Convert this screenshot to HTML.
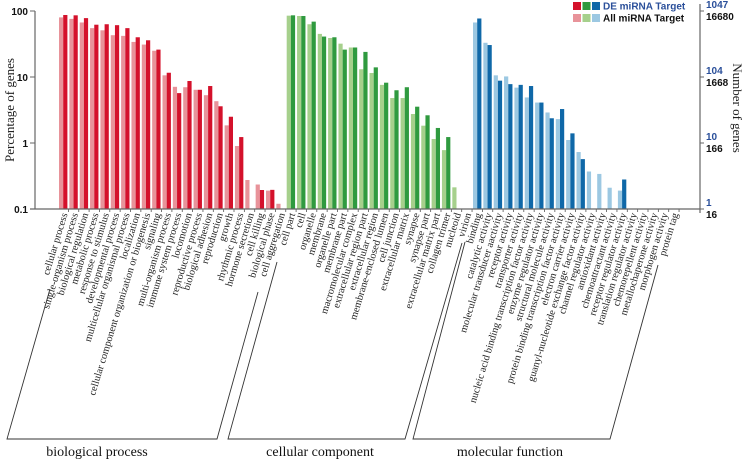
<!DOCTYPE html>
<html><head><meta charset="utf-8"><style>
html,body{margin:0;padding:0;background:#fff;}
svg{display:block;font-family:"Liberation Serif",serif;}
.ax{font-family:"Liberation Sans",sans-serif;font-weight:bold;font-size:10px;}
</style></head><body>
<svg id="chart" width="746" height="460" viewBox="0 0 746 460">
<g id="bars"></g>
<g id="labels"></g>
<g id="axes"></g>
</svg>
<script>
const bioCats=["cellular process","single-organism process","biological regulation","metabolic process","response to stimulus","developmental process","multicellular organismal process","localization","cellular component organization or biogenesis","signaling","multi-organism process","immune system process","locomotion","reproductive process","biological adhesion","reproduction","growth","rhythmic process","hormone secretion","cell killing","biological phase","cell aggregation"];
const bioAll=[80,76,67,55,51,43,42,34,31,25,10.6,7.1,7.0,6.4,5.3,4.3,1.85,0.9,0.275,0.235,0.19,0.12];
const bioDE=[87,86,78,62,63,61,55,40,36,26,11.6,5.7,8.7,6.4,7.3,3.6,2.5,1.23,0,0.194,0.195,0];
const ccCats=["cell part","cell","organelle","membrane","organelle part","membrane part","macromolecular complex","extracellular region part","extracellular region","membrane-enclosed lumen","cell junction","extracellular matrix","synapse","synapse part","extracellular matrix part","collagen trimer","nucleoid","virion"];
const ccAll=[85,84,63,45,39,32,28,13.1,11.5,7.6,4.8,4.8,2.75,1.83,1.15,0.78,0.213,0];
const ccDE=[86,84,69,41,40,26,28,24,14,8.2,6.3,7.0,3.55,2.63,1.69,1.23,0,0];
const mfCats=["binding","catalytic activity","molecular transducer aactivity","receptor activity","transporter activity","nucleic acid binding transcription factor activity","enzyme regulator activity","structural molecule activity","protein binding transcription factor activity","electron carrier activity","guanyl-nucleotide exchange factor activity","channel regulator activity","antioxidant activity","chemoattractant activity","receptor regulator activity","translation regulator activity","chemorepellent activity","metallochaperone activity","morphogen activity","protein tag"];
const mfAll=[67,33,10.6,10.2,6.9,4.9,4.1,2.9,2.3,1.11,0.73,0.37,0.34,0.21,0.19,0,0,0,0,0];
const mfDE=[77,30.5,8.8,7.8,7.6,7.3,4.1,2.37,3.27,1.4,0.57,0,0,0,0.28,0,0,0,0,0];
const leftTicks=["100","10","1","0.1"];
const leftVals=[100,10,1,0.1];
const rightBlue=["1047","104","10","1"];
const rightBlack=["16680","1668","166","16"];
const groupNames=["biological process","cellular component","molecular function"];

const NS="http://www.w3.org/2000/svg";
function mk(t,a,p){const e=document.createElementNS(NS,t);for(const k in a)e.setAttribute(k,a[k]);p.appendChild(e);return e;}
const X0=59,SLOT=10.35,BW=4.2,BASE=209;
function y(v){return 143-66*Math.log10(v);}
function xs(i){return X0+i*SLOT;}
const bars=document.getElementById('bars'),labels=document.getElementById('labels'),axes=document.getElementById('axes');
const groups=[
 {cats:bioCats,all:bioAll,de:bioDE,light:"#e8939a",dark:"#d4112b"},
 {cats:ccCats,all:ccAll,de:ccDE,light:"#a6d08c",dark:"#2f9a3f"},
 {cats:mfCats,all:mfAll,de:mfDE,light:"#9cc8e2",dark:"#0f68a8"}];
let idx=0;
groups.forEach((g,gi)=>{
 g.cats.forEach((c,i)=>{
  const x=xs(idx);
  if(g.all[i]>0){const r=mk('rect',{x:x,y:y(g.all[i]),width:BW,height:BASE-y(g.all[i]),fill:g.light},bars);
   
   }
  if(g.de[i]>0){const r=mk('rect',{x:x+BW,y:y(g.de[i]),width:BW,height:BASE-y(g.de[i]),fill:g.dark},bars);
   
   }
  const cx=x+BW;
  mk('line',{x1:cx+5.2,y1:BASE,x2:cx+5.2,y2:BASE+3,stroke:"#555","stroke-width":0.8},axes);
  const t=mk('text',{transform:`translate(${cx+1},${BASE+4}) rotate(-73)`,"text-anchor":"end",dy:"0.35em","font-size":"10.3",fill:"#222"},labels);
  t.textContent=c;
  
  
  idx++;
 });
});
mk('line',{x1:35,y1:11,x2:35,y2:BASE,stroke:"#666","stroke-width":1.2},axes);
mk('line',{x1:30,y1:BASE,x2:700,y2:BASE,stroke:"#666","stroke-width":1.2},axes);
mk('line',{x1:700,y1:4,x2:700,y2:213,stroke:"#666","stroke-width":1.2},axes);
leftVals.forEach((v,i)=>{
 mk('line',{x1:30,y1:y(v),x2:35,y2:y(v),stroke:"#666"},axes);
 const t=mk('text',{x:28,y:y(v)+4,"text-anchor":"end",class:"ax",fill:"#111"},axes);t.textContent=leftTicks[i];
 
 
 mk('line',{x1:700,y1:y(v),x2:704,y2:y(v),stroke:"#666"},axes);
 const b=mk('text',{x:706,y:y(v)-3,class:"ax",fill:"#2a4f9a"},axes);b.textContent=rightBlue[i];
 
 
 const k=mk('text',{x:706,y:y(v)+9,class:"ax",fill:"#111"},axes);k.textContent=rightBlack[i];
 
 
});
let t=mk('text',{transform:"translate(14,110) rotate(-90)","text-anchor":"middle","font-size":"13",fill:"#222"},axes);t.textContent="Percentage of genes";

t=mk('text',{transform:"translate(733,108) rotate(90)","text-anchor":"middle","font-size":"13",fill:"#222"},axes);t.textContent="Number of genes";

const br=[[50,289,7,439,217,439,258,292],[277,262,228,439,405,439,462,243],[465,242,413,439,610,439,658,265]];
const gx=[97,320,510];
br.forEach((p,i)=>{
 const pl=mk('polyline',{points:`${p[0]},${p[1]} ${p[2]},${p[3]} ${p[4]},${p[5]} ${p[6]},${p[7]}`,fill:"none",stroke:"#333","stroke-width":0.9},axes);
 
 const g=mk('text',{x:gx[i],y:456,"text-anchor":"middle","font-size":"14",fill:"#111"},axes);g.textContent=groupNames[i];
 
});
const lg=mk('g',{},axes);

["#d4112b","#2f9a3f","#0f68a8"].forEach((c,i)=>mk('rect',{x:573+i*9.5,y:2,width:8,height:8,fill:c},lg));
["#e8939a","#a6d08c","#9cc8e2"].forEach((c,i)=>mk('rect',{x:573+i*9.5,y:14,width:8,height:8,fill:c},lg));
t=mk('text',{x:603,y:9.5,class:"ax",fill:"#2a4f9a"},lg);t.textContent="DE miRNA Target";

t=mk('text',{x:603,y:21.5,class:"ax",fill:"#111"},lg);t.textContent="All miRNA Target";

</script>
</body></html>
